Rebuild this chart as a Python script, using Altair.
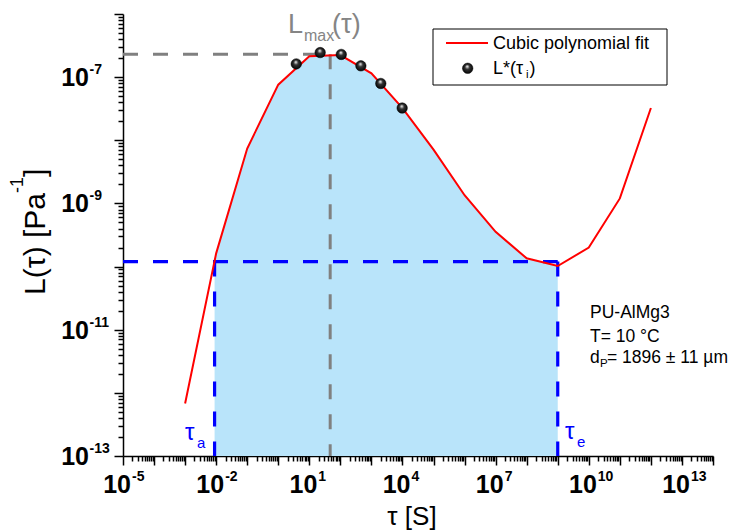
import altair as alt
import pandas as pd

FONT = "Liberation Sans"

# ---- data ----
fit_tau = [1e-3, 1e-2, 1e-1, 1e0, 1e1, 1e2, 1e3, 1e4, 1e5, 1e6, 1e7, 1e8, 1e9, 1e10, 1e11, 1e12]
fit_L = [6.8e-13, 1.62e-10, 7.4e-9, 7.6e-8, 2.14e-7, 2.24e-7, 1.15e-7, 3.24e-8,
         7.1e-9, 1.35e-9, 3.55e-10, 1.35e-10, 1.02e-10, 2.0e-10, 1.2e-9, 3.24e-8]
pt_tau = [3.8, 22.4, 107, 457, 2000, 9770]
pt_L = [1.62e-7, 2.45e-7, 2.29e-7, 1.51e-7, 7.94e-8, 3.24e-8]

tau_a = 0.0089
tau_e = 1e9
L_thr = 1.2e-10
tau_max = 47
L_max = 2.3e-7

x_min, x_max = 1e-5, 1e14
y_min, y_max = 1e-13, 1e-6

x_label_vals = [1e-5, 1e-2, 1e1, 1e4, 1e7, 1e10, 1e13]
x_label_exp = ["-5", "-2", "1", "4", "7", "10", "13"]
y_label_vals = [1e-13, 1e-11, 1e-9, 1e-7]
y_label_exp = ["-13", "-11", "-9", "-7"]

x_ticks = [k * 10.0 ** d for d in range(-5, 14) for k in range(1, 10)] + [1e14]
y_ticks = [k * 10.0 ** d for d in range(-13, -6) for k in range(1, 10)] + [1e-6]

major_test = "abs(log(datum.value)/LN10 - round(log(datum.value)/LN10)) < 0.001"

xs = alt.Scale(type="log", domain=[x_min, x_max], nice=False)
ys = alt.Scale(type="log", domain=[y_min, y_max], nice=False)

x_axis = alt.Axis(values=x_ticks, labels=False, title=None, grid=False,
                  tickSize={"condition": {"test": major_test, "value": 9}, "value": 5},
                  tickWidth=1.5, tickColor="black", domainColor="black", domainWidth=1.5)
y_axis = alt.Axis(values=y_ticks, labels=False, title=None, grid=False,
                  tickSize={"condition": {"test": major_test, "value": 9}, "value": 5},
                  tickWidth=1.5, tickColor="black", domainColor="black", domainWidth=1.5)


def X(f):
    return alt.X(f, type="quantitative", scale=xs, axis=x_axis)


def Y(f):
    return alt.Y(f, type="quantitative", scale=ys, axis=y_axis)


fit_df = pd.DataFrame({"tau": fit_tau, "L": fit_L})
pt_df = pd.DataFrame({"tau": pt_tau, "L": pt_L})
area_rows = [(tau_a, L_thr)] + [(t, l) for t, l in zip(fit_tau, fit_L) if tau_a < t <= tau_e]
area_df = pd.DataFrame({"tau": [r[0] for r in area_rows], "L": [r[1] for r in area_rows]})

blue_df = pd.DataFrame({
    "x": [x_min, tau_a, tau_e], "x2": [tau_e, tau_a, tau_e],
    "y": [L_thr, L_thr, L_thr], "y2": [L_thr, y_min, y_min]})
gray_df = pd.DataFrame({
    "x": [x_min, tau_max], "x2": [tau_max, tau_max],
    "y": [L_max, L_max], "y2": [L_max, y_min]})

one = pd.DataFrame({"a": [0]})

sphere = {"gradient": "radial",
          "stops": [{"offset": 0, "color": "#ffffff"},
                    {"offset": 0.15, "color": "#bbbbbb"},
                    {"offset": 0.4, "color": "#333333"},
                    {"offset": 1, "color": "#000000"}],
          "x1": 0.45, "y1": 0.3, "r1": 0, "x2": 0.5, "y2": 0.5, "r2": 0.55}

area = alt.Chart(area_df).mark_area(color="#b9e4fa", opacity=1).encode(
    x=X("tau"), y=Y("L"), y2=alt.datum(y_min))

blue = alt.Chart(blue_df).mark_rule(color="#0000ff", strokeWidth=3.2, strokeDash=[15, 15]).encode(
    x=X("x"), x2="x2", y=Y("y"), y2="y2")
gray = alt.Chart(gray_df).mark_rule(color="#808080", strokeWidth=3, strokeDash=[15, 15]).encode(
    x=X("x"), x2="x2", y=Y("y"), y2="y2")

line = alt.Chart(fit_df).mark_line(color="#ff0000", strokeWidth=2).encode(x=X("tau"), y=Y("L"))
pts = alt.Chart(pt_df).mark_circle(size=110, fill=sphere, opacity=1, stroke="#000000",
                                   strokeWidth=0.5).encode(x=X("tau"), y=Y("L"))

xl_df = pd.DataFrame({"tau": x_label_vals, "e": x_label_exp})
yl_df = pd.DataFrame({"L": y_label_vals, "e": y_label_exp})

x10 = alt.Chart(xl_df).mark_text(text="10", align="right", baseline="alphabetic", dx=8,
                                 font=FONT, fontSize=25, fontWeight="bold", color="black").encode(
    x=X("tau"), y=alt.value(479))
xexp = alt.Chart(xl_df).mark_text(align="left", baseline="alphabetic", dx=9,
                                  font=FONT, fontSize=14, fontWeight="bold", color="black").encode(
    x=X("tau"), y=alt.value(467), text="e:N")
y10 = alt.Chart(yl_df).mark_text(text="10", align="right", baseline="alphabetic", dy=9,
                                 font=FONT, fontSize=25, fontWeight="bold", color="black").encode(
    x=alt.value(-34), y=Y("L"))
yexp = alt.Chart(yl_df).mark_text(align="left", baseline="alphabetic", dy=-3,
                                  font=FONT, fontSize=14, fontWeight="bold", color="black").encode(
    x=alt.value(-33.5), y=Y("L"), text="e:N")


def label(txt, x, y, size, color="black", align="left", angle=0, weight="normal"):
    return alt.Chart(one).mark_text(text=txt, align=align, baseline="alphabetic", angle=angle,
                                    font=FONT, fontSize=size, color=color, fontWeight=weight).encode(
        x=alt.value(x), y=alt.value(y))


texts = [
    # y title
    label("L(\u03c4) [Pa", -78, 179, 30, align="right", angle=270),
    label("-1", -100, 179, 18, align="left", angle=270),
    label("]", -78, 163, 30, align="left", angle=270),
    # x title
    label("\u03c4 [S]", 289, 511, 26, align="center"),
    # L_max label
    label("L", 165, 19, 27, color="#858585"),
    label("max", 181, 27, 16, color="#858585"),
    label("(\u03c4)", 209, 19, 27, color="#858585"),
    # tau_a / tau_e
    label("\u03c4", 62, 426, 24, color="#0000ff"),
    label("a", 74, 434, 15, color="#0000ff"),
    label("\u03c4", 442, 425, 24, color="#0000ff"),
    label("e", 454, 433, 15, color="#0000ff"),
    # sample info
    label("PU-AlMg3", 467, 304, 17.5),
    label("T= 10 \u00b0C", 467, 328, 17.5),
    label("d", 467, 349, 17.5),
    label("P", 477, 353, 11.5),
    label("= 1896 \u00b1 11 \u00b5m", 484, 349, 17.5),
    # legend texts
    label("Cubic polynomial fit", 370, 35, 18),
    label("L*(\u03c4", 370, 60, 18),
    label("i", 403, 64, 11.5),
    label(")", 406.5, 60, 18),
]

legend_box = alt.Chart(one).mark_rect(fill="white", stroke="black", strokeWidth=1).encode(
    x=alt.value(310), x2=alt.value(544), y=alt.value(15), y2=alt.value(71))
legend_line = alt.Chart(one).mark_rule(color="#ff0000", strokeWidth=2).encode(
    x=alt.value(323), x2=alt.value(365), y=alt.value(29))
legend_pt = alt.Chart(one).mark_circle(size=110, fill=sphere, opacity=1, stroke="#000000",
                                       strokeWidth=0.5).encode(x=alt.value(344.7), y=alt.value(54.3))

chart = alt.layer(
    area, gray, blue, line, pts, x10, xexp, y10, yexp,
    legend_box, legend_line, legend_pt, *texts
).properties(
    width=590, height=442,
    autosize=alt.AutoSizeParams(type="none"),
    padding={"left": 115, "top": 6, "right": 16, "bottom": 76},
).configure_view(stroke=None)

chart.save("out.html", embed_options={"renderer": "svg", "actions": False})
